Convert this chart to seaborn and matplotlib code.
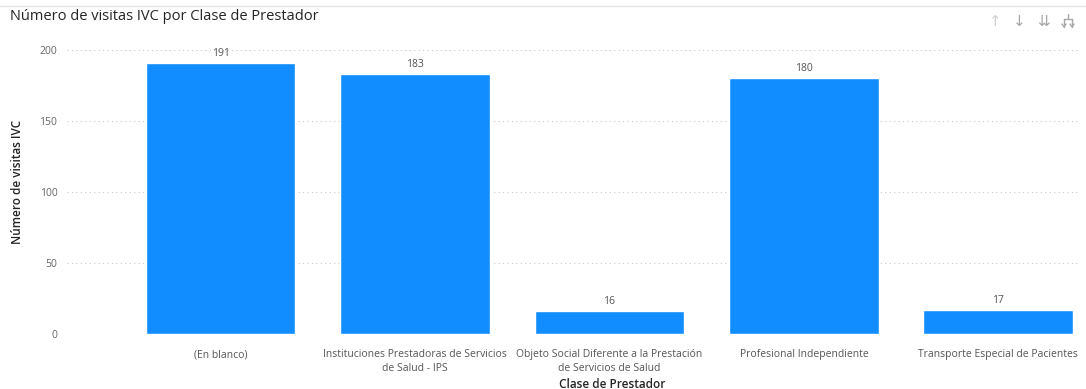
import matplotlib
matplotlib.use("Agg")
import matplotlib.pyplot as plt
from matplotlib.lines import Line2D
import seaborn as sns
import pandas as pd

categories = [
    "(En blanco)",
    "Instituciones Prestadoras de Servicios\nde Salud - IPS",
    "Objeto Social Diferente a la Prestación\nde Servicios de Salud",
    "Profesional Independiente",
    "Transporte Especial de Pacientes",
]
visitas = [191, 183, 16, 180, 17]
y_ticks = [0, 50, 100, 150, 200]

df = pd.DataFrame({"Clase de Prestador": categories, "Número de visitas IVC": visitas})

sns.set_theme(style="white")
plt.rcParams["font.family"] = ["Open Sans", "DejaVu Sans"]

W, H = 1086, 389
fig = plt.figure(figsize=(W / 100, H / 100), dpi=100)
ax = fig.add_axes([67 / W, 55 / H, (1080 - 67) / W, (334 - 50) / H])

bar_color = "#118DFF"
sns.barplot(data=df, x="Clase de Prestador", y="Número de visitas IVC",
            color=bar_color, saturation=1, width=0.77, ax=ax, zorder=3)

ax.set_ylim(0, 200)
ax.set_xlim(-0.79, 4.42)
ax.set_yticks(y_ticks)
ax.yaxis.grid(True, linestyle=(0, (1, 3)), color="#c8c8c8", linewidth=0.8, zorder=0)
ax.xaxis.grid(False)
for s in ax.spines.values():
    s.set_visible(False)

ax.tick_params(axis="y", length=0, pad=7, labelsize=7.5, labelcolor="#666666")
ax.tick_params(axis="x", length=0, pad=11, labelsize=7.5, labelcolor="#555555")
for lbl in ax.get_xticklabels():
    lbl.set_horizontalalignment("center")
    lbl.set_multialignment("center")
    lbl.set_linespacing(1.35)

for p, v in zip(ax.patches, visitas):
    ax.annotate(f"{v}", (p.get_x() + p.get_width() / 2, v),
                xytext=(0, 3), textcoords="offset points",
                ha="center", va="bottom", fontsize=7.5, color="#555555",
                annotation_clip=False)

ax.set_ylabel("Número de visitas IVC", fontsize=8.5, color="#252423", fontweight="semibold")
ax.yaxis.set_label_coords(-0.042, 0.535)
ax.set_xlabel("Clase de Prestador", fontsize=8.5, color="#252423", fontweight="semibold")
ax.xaxis.set_label_coords(0.538, -0.155)

fig.text(10 / W, 1 - 17 / H, "Número de visitas IVC por Clase de Prestador",
         fontsize=10.5, color="#252423", ha="left", va="center")

# header rule and visual toolbar icons
fig.add_artist(Line2D([0, 1], [1 - 6 / H, 1 - 6 / H], color="#e6e6e6", linewidth=1))
for xpos, sym, col in zip([995, 1019, 1043], ["↑", "↓", "⇊"],
                          ["#d0d0d0", "#a8a8a8", "#a8a8a8"]):
    fig.text(xpos / W, 1 - 21 / H, sym, fontsize=11, color=col,
             ha="center", va="center", family="DejaVu Sans")


def px_line(xs, ys, **kw):
    fig.add_artist(Line2D([x / W for x in xs], [1 - y / H for y in ys],
                          color="#a8a8a8", linewidth=1, **kw))


# expand-hierarchy icon
cx = 1068
px_line([cx, cx], [14, 19])
px_line([cx - 4, cx + 4], [19, 19])
px_line([cx - 4, cx - 4], [19, 27])
px_line([cx + 4, cx + 4], [19, 27])
px_line([cx - 6, cx - 4, cx - 2], [24, 27, 24])
px_line([cx + 2, cx + 4, cx + 6], [24, 27, 24])

fig.savefig("out.png", dpi=100)
